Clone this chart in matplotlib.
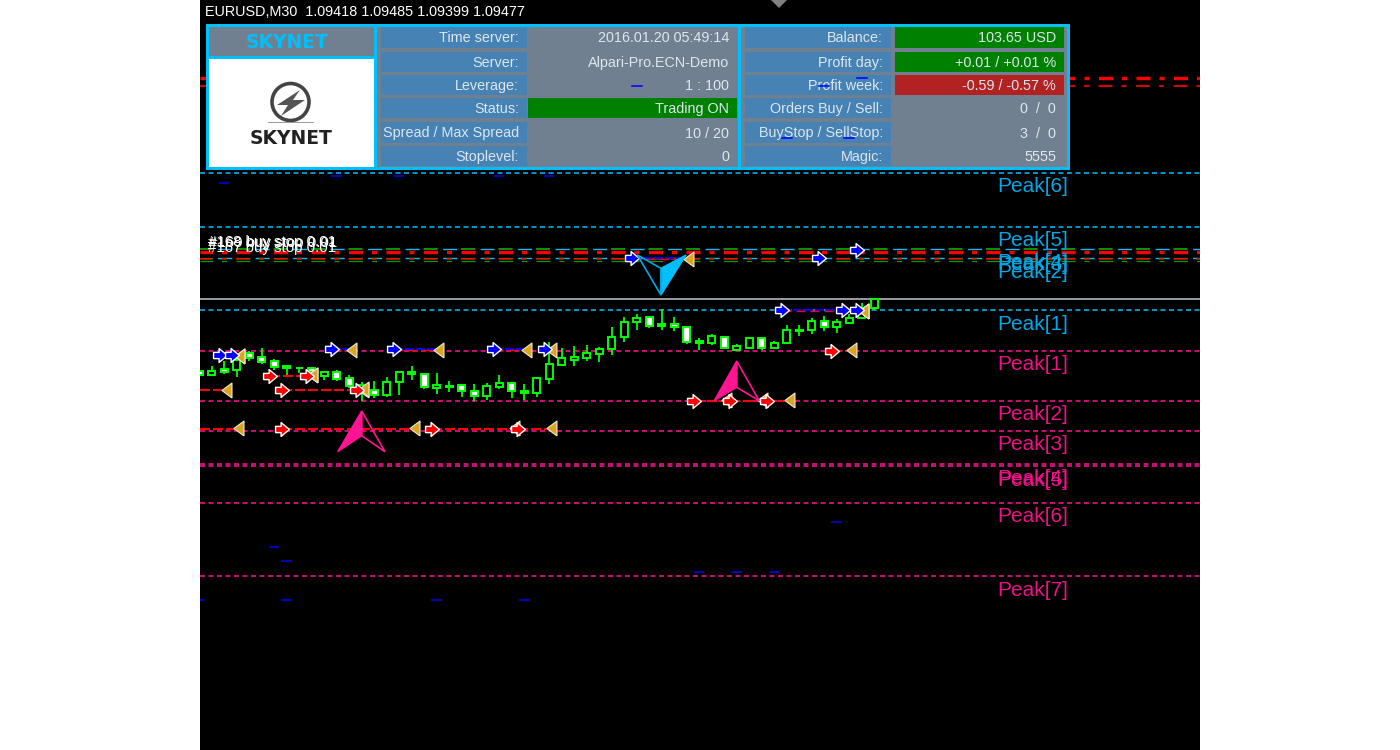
import matplotlib
matplotlib.use("Agg")
import matplotlib.pyplot as plt
from matplotlib.patches import Rectangle, Polygon, Circle
from matplotlib.path import Path

plt.rcParams['font.family'] = ['Liberation Sans', 'DejaVu Sans']
plt.rcParams['lines.scale_dashes'] = False

# ---- chart data: x in bar numbers, y in chart rows ----
highs = [370.7,365.7,361,356.7,351,348.3,359.3,366,367.7,366.7,372.3,370.3,375,381.7,381,376.7,372.3,365.7,373.3,373.3,381,385,384.3,383.3,375,383.3,384.3,377,342.3,348.3,345.7,345,346.7,326.7,317.3,314.3,315.7,309.3,317.3,326.7,337.7,334.3,336.7,344,338.3,338,341,325,325,317.7,315.7,319,314.3,303.3,299]
lows = [374.7,374.7,373.7,376.7,361,364.3,370,375.7,373.3,374.3,380,381,387.7,401,398.3,396.7,395,380,389,394,392.3,396.7,401,400,389,398.3,400,396.7,384.3,365.7,365.7,361,362.3,355,342.3,330,327.7,330,331,344,350,345,349,351,347.7,350,347.7,344.3,335.7,334.3,331,332.7,324.3,318.3,310]
body_tops = [370.7,370.7,369,360,353.3,356.7,361,366,367.7,368.3,372.3,372.3,378.3,385,390,381.7,372.3,371.7,374,385,386,385,391,386.3,383.3,383.3,390.7,378.3,364.3,358.3,356.7,353.3,348.7,336.7,322.3,317.7,317.3,323.7,324,327.3,340.7,336.3,336.7,345.7,338.3,338,342.7,330.3,330,321,321,322.3,317.7,308.3,299.3]
body_bottoms = [374.7,374.7,371.7,370,357.7,362.3,366.7,367.7,368.3,371.7,375.7,379,385.7,393.3,395,395,382.3,374.3,387.3,388.3,386.7,391,396.3,396.3,387.3,391,393.3,393,379.3,365,360.3,357.7,354,349.3,336.7,322.3,326,325.7,327.3,341.7,343,343.3,347.7,349.7,347.7,347.7,347.7,343.3,330.7,330.3,327.3,327.3,323.3,318.3,307.7]
bear_bar = [1,0,1,0,1,1,1,1,1,1,0,1,1,0,1,0,0,1,1,0,1,1,1,0,0,1,1,0,0,0,0,0,0,0,0,0,1,1,1,1,1,0,1,0,0,1,0,0,1,0,1,0,0,0,0]

blue_levels = [173, 227, 310]
blue_close_levels = [249, 258]
pink_levels = [350.5, 400.5, 430.5, 463.5, 466, 502.5, 575.5]
blue_labels = ['Peak[6]', 'Peak[5]', 'Peak[4]', 'Peak[3]', 'Peak[2]', 'Peak[1]']
blue_label_rows = [186, 241, 263, 264, 273, 324]
pink_labels = ['Peak[1]', 'Peak[2]', 'Peak[3]', 'Peak[4]', 'Peak[5]', 'Peak[6]', 'Peak[7]']
pink_label_rows = [365, 415, 445, 478, 480, 516, 590]
red_levels = [78, 86, 251.5, 259.3]
red_widths = [3.4, 1.7, 3.4, 1.5]
green_dash_levels = [249]
green_levels = [258, 260.7]
bid_level = 299

pending_x = [2,11,16,24,28,35,50,53,47,52,6,7,51,40,43,46,0,7,19,26]
pending_y = [183,176,176,176,176,86,86,78,138,138,547,561,522,572,572,572,600,600,600,600]

buy_start = [1.66,2.62,10.6,15.58,23.58,27.66,34.6,46.6,51.5,52.6]
buy_end = [3.26,3.26,12.22,19.18,26.22,28.22,39.18,53.18,53.18,53.18]
buy_row = [355,355,349,349,349,349,258,310,310,310]
red_start = [5.66,8.6,-1,6.6,12.6,-1,6.6,18.6,25.5,50.6,39.6,42.5,45.4]
red_end = [9.1,9.1,2.2,13.18,13.18,3.18,17.26,25.26,28.2,52.2,42.2,45.1,47.26]
red_row = [375.7,375.7,390,390,389.7,428.5,428.5,428.5,428.5,350.7,400.7,400.7,400.7]
open_buy_x = [52.6, 49.6]
open_buy_y = [250, 258]

up_arrows = [((13.0,411),(11.08,451.7),(13.0,435.7),(14.86,451.7)),
             ((43.0,361),(41.2,400.7),(43.0,387.3),(44.8,400.7))]
down_arrow = ((36.94,295),(35.05,255),(36.94,268.3),(38.95,255))

left_titles = ['Time server:', 'Server:', 'Leverage:', 'Status:', 'Spread / Max Spread', 'Stoplevel:']
left_values = ['2016.01.20 05:49:14', 'Alpari-Pro.ECN-Demo', '1 : 100', 'Trading ON', '10 / 20', '0']
right_titles = ['Balance:', 'Profit day:', 'Profit week:', 'Orders Buy / Sell:', 'BuyStop / SellStop:', 'Magic:']
right_values = ['103.65 USD', '+0.01 / +0.01 %', '-0.59 / -0.57 %', '0  /  0', '3  /  0', '5555']
left_fill = ['#708090','#708090','#708090','#008000','#708090','#708090']
right_fill = ['#008000','#008000','#B22222','#708090','#708090','#708090']
row_tops = [27, 51.5, 75, 98, 122, 146]
row_bottoms = [48, 72, 95, 118, 143, 166]

# ---- figure ----
fig = plt.figure(figsize=(14, 7.5), dpi=100, facecolor='white')
ax = fig.add_axes([200/1400, 0, 1000/1400, 1], facecolor='black')
ax.set_xlim(0.064, 80.064)
ax.set_ylim(750, 0)
ax.axis('off')
ax.add_patch(Rectangle((0.064, 0), 80, 750, fc='black', ec='none', zorder=0))

DOT = 0.72
fine = (0, (5*DOT, 3.5*DOT))
for r in blue_levels:
    ax.axhline(r, color='#00BFFF', lw=1.1, ls=fine, dash_capstyle='butt', zorder=2)
for r in blue_close_levels:
    ax.axhline(r, color='#00BFFF', lw=1.0, ls=(19.9*DOT, (14*DOT, 23.5*DOT)), dash_capstyle='butt', zorder=2)
for r in pink_levels:
    ax.axhline(r, color='#FF1493', lw=1.1, ls=fine, dash_capstyle='butt', zorder=2)
dd = (1.5*DOT, (14*DOT, 9*DOT, 5*DOT, 9.5*DOT))
only_dash = (1.5*DOT, (14*DOT, 23.5*DOT))
for r in green_dash_levels:
    ax.axhline(r, color='#00C000', lw=1.1, ls=only_dash, dash_capstyle='butt', zorder=2.5)
for r in green_levels:
    ax.axhline(r, color='#00A000', lw=0.9, ls=dd, dash_capstyle='butt', zorder=2.5)
for r, w in zip(red_levels, red_widths):
    ax.axhline(r, color='#FF0000', lw=w*DOT, ls=dd, dash_capstyle='butt', zorder=3)
ax.axhline(bid_level, color='#C0C8D0', lw=1.1, zorder=2)

# candles
for i, (h, l, t, b, bear) in enumerate(zip(highs, lows, body_tops, body_bottoms, bear_bar)):
    ax.plot([i, i], [h, l], color='#00FF00', lw=1.3, solid_capstyle='butt', zorder=4)
    ax.add_patch(Rectangle((i-0.28, t), 0.56, b-t, fc='white' if bear else 'black',
                           ec='#00FF00', lw=1.4, zorder=5))

ax.hlines(pending_y, [x-0.42 for x in pending_x], [x+0.42 for x in pending_x],
          color='#0000FF', lw=1.1, zorder=3)

arrow_path = Path([(-1,-.45),(-.2,-.45),(-.2,-1),(1,0),(-.2,1),(-.2,.45),(-1,.45),(-1,-.45)])
tri_path = Path([(.6,-1),(.6,1),(-.75,0),(.6,-1)])

for a, b, r in zip(buy_start, buy_end, buy_row):
    ax.plot([a, b], [r, r], color='#0000FF', lw=1.5, ls=(0,(9*DOT,2*DOT)), zorder=6)
    ax.plot([a, b], [r+1, r+1], color='#FF0000', lw=1.0, ls=(0,(9*DOT,5*DOT)), zorder=6)
for a, b, r in zip(red_start, red_end, red_row):
    ax.plot([a, b], [r, r], color='#FF0000', lw=1.5, ls=(0,(10*DOT,3*DOT)), zorder=6)

ax.scatter(buy_end, [r+1 for r in buy_row], marker=tri_path, s=115, c='#DAA520', edgecolors='#F4EAD0', linewidths=0.8, zorder=7)
ax.scatter(red_end, [r-0.5 for r in red_row], marker=tri_path, s=115, c='#DAA520', edgecolors='#F4EAD0', linewidths=0.8, zorder=7)
ax.scatter([x for x in red_start if x >= 0], [r for r, s in zip(red_row, red_start) if s >= 0],
           marker=arrow_path, s=100, c='#FF0000', edgecolors='white', linewidths=1.0, zorder=8)
ax.scatter(buy_start + open_buy_x, buy_row + open_buy_y, marker=arrow_path, s=100, c='#0000FF', edgecolors='white', linewidths=1.0, zorder=8)

for tip, left, mid, right in up_arrows:
    ax.add_patch(Polygon([tip, left, mid], fc='#FF1493', ec='#FF1493', lw=1, zorder=9))
    ax.add_patch(Polygon([tip, right, mid], fc='none', ec='#FF1493', lw=1.2, zorder=9))
ax.add_patch(Polygon([down_arrow[0], down_arrow[3], down_arrow[2]], fc='#00BFFF', ec='#00BFFF', lw=1, zorder=9))
ax.add_patch(Polygon([down_arrow[0], down_arrow[1], down_arrow[2]], fc='none', ec='#00A8E0', lw=1.2, zorder=9))

# ---- pixel overlay: panel and labels ----
ui = fig.add_axes([0, 0, 1, 1], facecolor='none')
ui.set_xlim(0, 1400); ui.set_ylim(750, 0); ui.axis('off')

def rect(x0, y0, x1, y1, c, z=10):
    ui.add_patch(Rectangle((x0, y0), x1-x0, y1-y0, fc=c, ec='none', zorder=z))

CY = '#00BFFF'
rect(206, 24, 1070, 170, CY)
rect(209, 27, 374, 56, '#708090', 11)
rect(209, 59, 374, 167, 'white', 11)
rect(377, 27, 738, 167, '#708090', 11)
rect(741, 27, 1067, 167, '#708090', 11)
for t, b, lt, lv, rt, rv, lf, rf in zip(row_tops, row_bottoms, left_titles, left_values, right_titles, right_values, left_fill, right_fill):
    rect(381, t, 527, b, '#4682B4', 12)
    rect(528, t, 737, b, lf, 12)
    rect(745, t, 891, b, '#4682B4', 12)
    rect(895, t, 1064, b, rf, 12)
    ym = (t+b)/2 + 1
    kw = dict(ha='right', va='center', fontsize=10.4, color='#DCE6EE', zorder=14)
    ui.text(519, ym, lt, **kw); ui.text(729, ym, lv, **kw)
    ui.text(883, ym, rt, **kw); ui.text(1056, ym, rv, **kw)
# blue pending dashes seen over the panel
for x, y in zip(pending_x, pending_y):
    if y < 170:
        px = 199.2 + 12.5*x
        ui.plot([px-5.2, px+5.2], [y, y], color='#0000FF', lw=1.1, zorder=15)

ui.text(287.5, 42, 'SKYNET', ha='center', va='center', fontsize=13.5, fontweight='bold', family='DejaVu Sans', color=CY, zorder=14)
ui.add_patch(Circle((290.5, 102), 18.5, fc='none', ec='#444444', lw=2.6, zorder=13))
ui.add_patch(Polygon([(300,90),(277,105),(288,105),(281,116),(305,100),(293,100)], fc='#555555', ec='none', zorder=13))
ui.plot([268, 313], [122, 122], color='#999999', lw=0.7, zorder=13)
ui.text(291, 138, 'SKYNET', ha='center', va='center', fontsize=13.5, fontweight='bold', family='DejaVu Sans', color='#222222', zorder=14)

ui.text(205, 12, 'EURUSD,M30  1.09418 1.09485 1.09399 1.09477', ha='left', va='center', fontsize=10.35, color='white', zorder=14)
ui.add_patch(Polygon([(771, 0), (787, 0), (779, 8)], fc='#808080', ec='none', zorder=14))

for t, r in zip(blue_labels, blue_label_rows):
    ui.text(1068, r, t, ha='right', va='center', fontsize=15, color='#00A8E8', zorder=6)
for t, r in zip(pink_labels, pink_label_rows):
    ui.text(1068, r, t, ha='right', va='center', fontsize=15, color='#F0108A', zorder=6)

for dx, r, s in [(208, 242, '#168 buy stop 0.01'), (209, 243, '#169 buy stop 0.01'), (208, 248, '#167 buy stop 0.01')]:
    ui.text(dx, r, s, ha='left', va='center', fontsize=10.8, color='white', zorder=6)

fig.savefig('out.png', dpi=100, facecolor='white')
